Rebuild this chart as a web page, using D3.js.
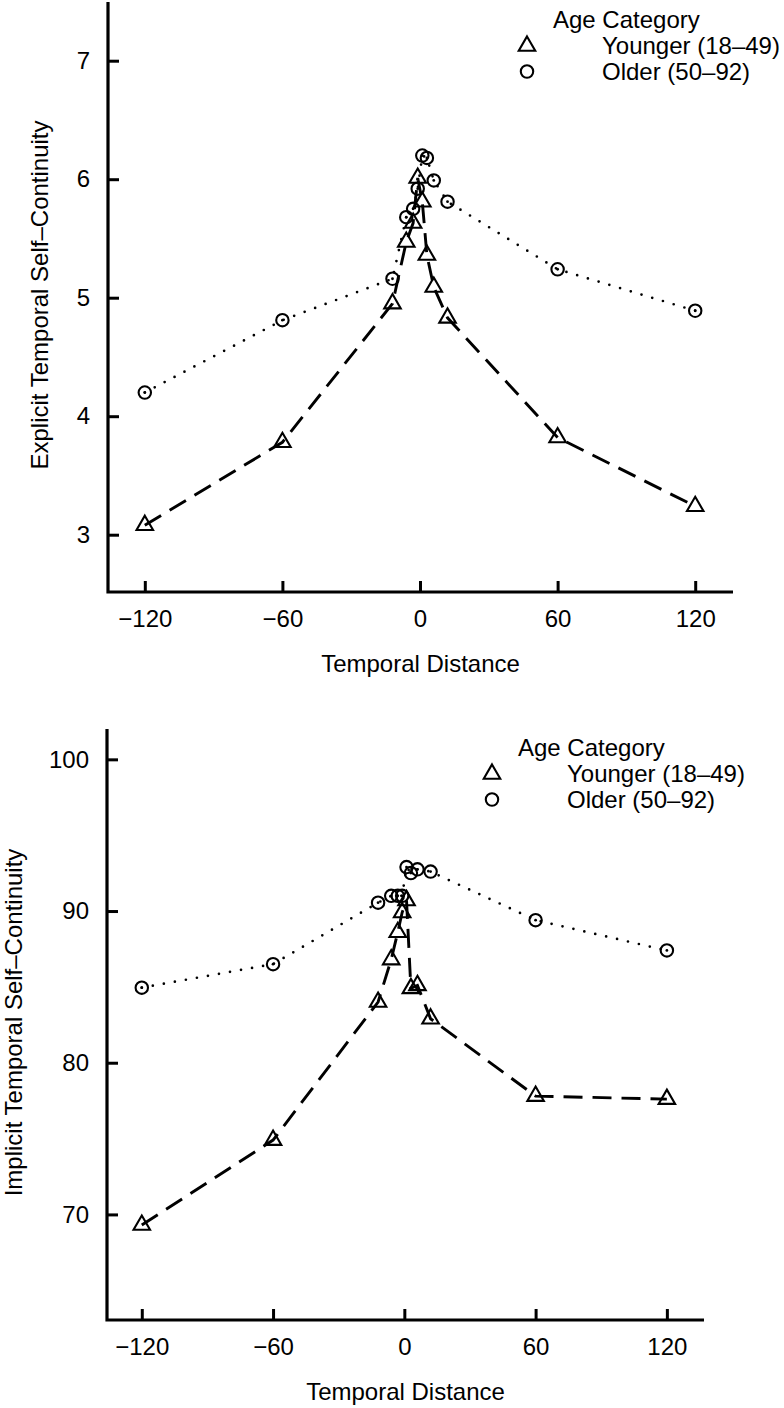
<!DOCTYPE html>
<html>
<head>
<meta charset="utf-8">
<script src="https://cdn.jsdelivr.net/npm/d3@7/dist/d3.min.js"></script>
<style>
  html, body { margin: 0; padding: 0; background: #fff; }
  svg { display: block; }
</style>
</head>
<body>
<svg id="chart" width="784" height="1408"></svg>
<script>
// ---------------- DATA ----------------
const timePoints = [-120, -60, -12, -6, -3, -1, 1, 3, 6, 12, 60, 120];
const xTicks = [-120, -60, 0, 60, 120];

const explicitYounger = [3.08, 3.78, 4.95, 5.47, 5.63, 6.01, 5.81, 5.36, 5.09, 4.83, 3.82, 3.24];
const explicitOlder   = [4.20, 4.81, 5.16, 5.68, 5.75, 5.92, 6.20, 6.18, 5.99, 5.81, 5.24, 4.89];
const explicitTicks   = [3, 4, 5, 6, 7];

const implicitYounger = [69.3, 74.9, 84.0, 86.8, 88.6, 89.9, 90.7, 84.9, 85.1, 82.9, 77.8, 77.6];
const implicitOlder   = [84.95, 86.5, 90.55, 91.0, 91.0, 91.0, 92.9, 92.5, 92.75, 92.6, 89.4, 87.4];
const implicitTicks   = [70, 80, 90, 100];

const legendTitle = "Age Category";
const seriesLabels = ["Younger (18\u201349)", "Older (50\u201392)"];
const xTitle = "Temporal Distance";
const yTitles = ["Explicit Temporal Self\u2013Continuity", "Implicit Temporal Self\u2013Continuity"];

// ---------------- STYLE ----------------
const FONT = "'Liberation Sans', Arial, Helvetica, sans-serif";
const FS = 24;
const svg = d3.select("#chart");

const panels = [
  {
    younger: explicitYounger, older: explicitOlder, yTicks: explicitTicks, yTitle: yTitles[0],
    xRange: [108, 733], xDomain: [-136.05, 136.48],
    yRange: [592, 2], yDomain: [2.5165, 7.4954],
    yTitleX: 48, legend: { x: 527, y: 0 }
  },
  {
    younger: implicitYounger, older: implicitOlder, yTicks: implicitTicks, yTitle: yTitles[1],
    xRange: [107, 704], xDomain: [-135.9, 136.97],
    yRange: [1320, 729], yDomain: [63.04, 102.0],
    yTitleX: 22, legend: { x: 492, y: 728 }
  }
];

const triSym = d3.symbol().type(d3.symbolTriangle).size(118);
const CR = 6.2;
const fmt = d3.format("d");

panels.forEach(p => {
  const x = d3.scaleLinear().domain(p.xDomain).range(p.xRange);
  const y = d3.scaleLinear().domain(p.yDomain).range(p.yRange);
  const g = svg.append("g");

  const x0 = p.xRange[0], x1 = p.xRange[1];
  const yb = p.yRange[0], yt = p.yRange[1];

  // x axis ticks + labels
  const xAxis = d3.axisBottom(x).tickValues(xTicks).tickFormat(fmt)
    .tickSizeInner(-11).tickSizeOuter(0).tickPadding(18);
  const gx = g.append("g").attr("transform", `translate(0,${yb})`).call(xAxis);
  gx.select(".domain").remove();
  gx.selectAll(".tick line").attr("stroke", "#000").attr("stroke-width", 3);
  gx.selectAll(".tick text").attr("font-family", FONT).attr("font-size", FS).attr("fill", "#000");

  // y axis ticks + labels
  const yAxis = d3.axisLeft(y).tickValues(p.yTicks).tickFormat(fmt)
    .tickSizeInner(-11).tickSizeOuter(0).tickPadding(18);
  const gy = g.append("g").attr("transform", `translate(${x0},0)`).call(yAxis);
  gy.select(".domain").remove();
  gy.selectAll(".tick line").attr("stroke", "#000").attr("stroke-width", 3);
  gy.selectAll(".tick text").attr("font-family", FONT).attr("font-size", FS).attr("fill", "#000");

  // L-shaped frame
  g.append("path")
    .attr("d", `M${x0},${yt}V${yb}H${x1}`)
    .attr("fill", "none").attr("stroke", "#000").attr("stroke-width", 3.2)
    .attr("stroke-linejoin", "miter");

  // axis titles
  g.append("text")
    .attr("x", (x0 + x1) / 2).attr("y", yb + 80)
    .attr("text-anchor", "middle")
    .attr("font-family", FONT).attr("font-size", FS).attr("fill", "#000")
    .text(xTitle);
  const yc = (yt + yb) / 2 - 2;
  g.append("text")
    .attr("transform", `translate(${p.yTitleX},${yc}) rotate(-90)`)
    .attr("text-anchor", "middle")
    .attr("font-family", FONT).attr("font-size", FS).attr("fill", "#000")
    .text(p.yTitle);

  const youngPts = timePoints.map((t, i) => [t, p.younger[i]]);
  const oldPts = timePoints.map((t, i) => [t, p.older[i]]);
  const line = d3.line().x(d => x(d[0])).y(d => y(d[1]));

  // dashed line (younger)
  g.append("path").attr("d", line(youngPts))
    .attr("fill", "none").attr("stroke", "#000").attr("stroke-width", 2.9)
    .attr("stroke-dasharray", "19 10");

  // dotted line (older)
  g.append("path").attr("d", line(oldPts))
    .attr("fill", "none").attr("stroke", "#000").attr("stroke-width", 2.7)
    .attr("stroke-linecap", "round")
    .attr("stroke-dasharray", "0 11.2");

  // center dots of the older series
  g.selectAll(".cdot").data(oldPts).enter().append("circle")
    .attr("cx", d => x(d[0])).attr("cy", d => y(d[1])).attr("r", 1.4)
    .attr("fill", "#000");

  // markers
  g.selectAll(".tri").data(youngPts).enter().append("path")
    .attr("d", triSym)
    .attr("transform", d => `translate(${x(d[0])},${y(d[1])})`)
    .attr("fill", "none").attr("stroke", "#000").attr("stroke-width", 2.1);
  g.selectAll(".circ").data(oldPts).enter().append("circle")
    .attr("cx", d => x(d[0])).attr("cy", d => y(d[1])).attr("r", CR)
    .attr("fill", "none").attr("stroke", "#000").attr("stroke-width", 2.1);

  // legend
  const L = p.legend;
  g.append("text").attr("x", L.x + 26).attr("y", L.y + 28)
    .attr("font-family", FONT).attr("font-size", FS).attr("fill", "#000")
    .text(legendTitle);
  g.append("path").attr("d", triSym)
    .attr("transform", `translate(${L.x},${L.y + 46})`)
    .attr("fill", "none").attr("stroke", "#000").attr("stroke-width", 2.1);
  g.append("circle").attr("cx", L.x).attr("cy", L.y + 71.5).attr("r", CR)
    .attr("fill", "none").attr("stroke", "#000").attr("stroke-width", 2.1);
  seriesLabels.forEach((s, i) => {
    g.append("text").attr("x", L.x + 75).attr("y", L.y + 54 + i * 26)
      .attr("font-family", FONT).attr("font-size", FS).attr("fill", "#000")
      .text(s);
  });
});
</script>
</body>
</html>
